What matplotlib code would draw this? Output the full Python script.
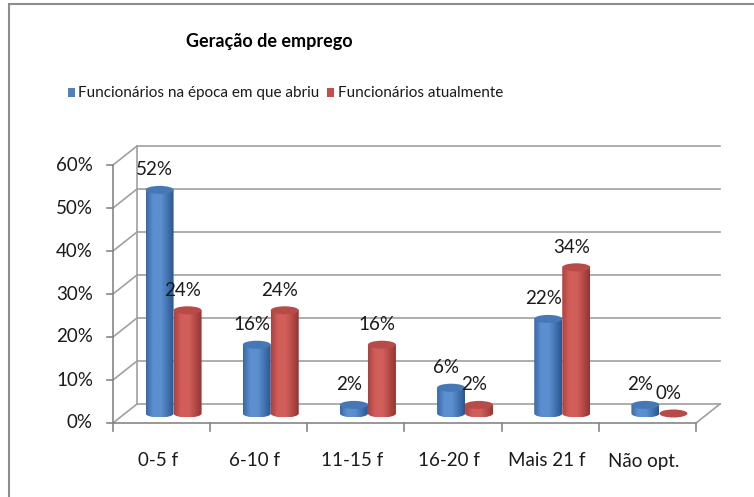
import numpy as np
import matplotlib
matplotlib.use("Agg")
import matplotlib.pyplot as plt
from matplotlib.patches import Ellipse, PathPatch, Rectangle
from matplotlib.path import Path

plt.rcParams['font.family'] = ['Lato', 'DejaVu Sans']

# data
categories = ['0-5 f', '6-10 f', '11-15 f', '16-20 f', 'Mais 21 f', 'Não opt.']
abertura = [52, 16, 2, 6, 22, 2]
atual = [24, 24, 16, 2, 34, 0]
series_names = ['Funcionários na época em que abriu', 'Funcionários atualmente']
y_ticks = [0, 10, 20, 30, 40, 50, 60]

BLUE = ['#3a68a6', '#5b8fd0', '#2c5791']
RED = ['#ac423f', '#d25e5a', '#933633']
TOP_BLUE = '#4677b6'
TOP_RED = '#b84a47'
GRID = '#a0a0a0'

W, H = 754, 497
fig = plt.figure(figsize=(W / 100, H / 100), dpi=100)

# outer chart border
fig.patches.append(Rectangle((9 / W, -0.1), 1.2, 1 - 4 / H + 0.1, transform=fig.transFigure,
                             fill=False, edgecolor='#8c8c8c', linewidth=1.5))

# front plane of the axes, in pixels
x0, x1 = 113, 696
y0, y1 = 423, 165
ax = fig.add_axes([x0 / W, (H - y0) / H, (x1 - x0) / W, (y0 - y1) / H])
n = len(categories)
ax.set_xlim(-0.5, n - 0.5)
ax.set_ylim(0, 60)
for s in ax.spines.values():
    s.set_visible(False)
ax.set_xticks([])
ax.set_yticks([])
ax.patch.set_alpha(0)

px_x = (x1 - x0) / n          # pixels per category
px_y = (y0 - y1) / 60         # pixels per percent
DX = 24 / px_x                # depth offset (data units)
DY = 19 / px_y

# back wall gridlines and side wall diagonals
for v in y_ticks:
    ax.plot([-0.5 + DX, n - 0.5 + DX], [v + DY, v + DY], color=GRID, lw=1.2, clip_on=False, zorder=1)
    ax.plot([-0.5, -0.5 + DX], [v, v + DY], color=GRID, lw=1.2, clip_on=False, zorder=1)
ax.plot([-0.5 + DX, -0.5 + DX], [DY, 60 + DY], color=GRID, lw=1.2, clip_on=False, zorder=1)
# floor
ax.plot([-0.5, n - 0.5], [0, 0], color='#868686', lw=1.2, clip_on=False, zorder=1)
ax.plot([n - 0.5, n - 0.5 + DX], [0, DY], color=GRID, lw=1.2, clip_on=False, zorder=1)
# front value axis
ax.plot([-0.5, -0.5], [0, 60], color='#868686', lw=1.2, clip_on=False, zorder=1)

tick_px_x = 6 / px_x
tick_px_y = 8 / px_y
for v in y_ticks:
    ax.plot([-0.5 - tick_px_x, -0.5], [v, v], color='#868686', lw=1.2, clip_on=False)
    ax.text(-0.5 - 20 / px_x, v, f'{v}%', ha='right', va='center', fontsize=13.5, color='#1a1a1a')
for i in range(n + 1):
    ax.plot([i - 0.5, i - 0.5], [0, -tick_px_y], color='#868686', lw=1.2, clip_on=False)
for i, c in enumerate(categories):
    ax.text(i - 4 / px_x, -38 / px_y, c, ha='center', va='center', fontsize=13.5, color='#1a1a1a')

# cylinders
bw = 28 / px_x
eh = 8 / px_y
base = DY / 2


def cylinder(xl, val, cols, top_col):
    top = base + val
    if val > 0:
        k = 0.5522847498 * eh / 2
        verts = [(xl, top), (xl, base),
                 (xl, base - k), (xl + bw / 2 - k * bw / eh, base - eh / 2), (xl + bw / 2, base - eh / 2),
                 (xl + bw / 2 + k * bw / eh, base - eh / 2), (xl + bw, base - k), (xl + bw, base),
                 (xl + bw, top), (xl, top)]
        codes = [Path.MOVETO, Path.LINETO,
                 Path.CURVE4, Path.CURVE4, Path.CURVE4,
                 Path.CURVE4, Path.CURVE4, Path.CURVE4,
                 Path.LINETO, Path.CLOSEPOLY]
        body = PathPatch(Path(verts, codes), facecolor='none', edgecolor='none', clip_on=False)
        ax.add_patch(body)
        cmap = matplotlib.colors.LinearSegmentedColormap.from_list('c', [cols[0], cols[1], cols[1], cols[2]])
        grad = np.interp(np.linspace(0, 1, 64), [0, 0.3, 0.45, 1], [0, 0.4, 0.6, 1])[None, :]
        im = ax.imshow(grad, cmap=cmap, extent=[xl, xl + bw, base - eh / 2, top], aspect='auto',
                       zorder=3, clip_on=True)
        im.set_clip_path(body)
    ax.add_patch(Ellipse((xl + bw / 2, top), bw, eh, facecolor=top_col, edgecolor='none',
                         zorder=4, clip_on=False))


for i in range(n):
    cx = i + DX / 2
    cylinder(cx - bw, abertura[i], BLUE, TOP_BLUE)
    cylinder(cx, atual[i], RED, TOP_RED)
    ax.annotate(f'{abertura[i]}%', (cx - bw / 2, base + abertura[i]), xytext=(-5, 20),
                textcoords='offset pixels', ha='center', va='center', fontsize=13.5,
                color='#1a1a1a', zorder=5, annotation_clip=False)
    ax.annotate(f'{atual[i]}%', (cx + bw / 2, base + atual[i]), xytext=(-5, 20),
                textcoords='offset pixels', ha='center', va='center', fontsize=13.5,
                color='#1a1a1a', zorder=5, annotation_clip=False)

ax.set_xlim(-0.5, n - 0.5)
ax.set_ylim(0, 60)

# title and legend
fig.text(269 / W, 1 - 42 / H, 'Geração de emprego', ha='center', va='center',
         fontsize=13, fontweight='bold', color='#000000')
fig.patches.append(Rectangle((68 / W, 1 - 97 / H), 7 / W, 9 / H, transform=fig.transFigure,
                             facecolor='#4f81bd', edgecolor='none'))
fig.text(78 / W, 1 - 93 / H, series_names[0], ha='left', va='center', fontsize=11, color='#1a1a1a')
fig.patches.append(Rectangle((327 / W, 1 - 97 / H), 7 / W, 9 / H, transform=fig.transFigure,
                             facecolor='#c0504d', edgecolor='none'))
fig.text(338 / W, 1 - 93 / H, series_names[1], ha='left', va='center', fontsize=11, color='#1a1a1a')

fig.savefig('out.png', dpi=100)
